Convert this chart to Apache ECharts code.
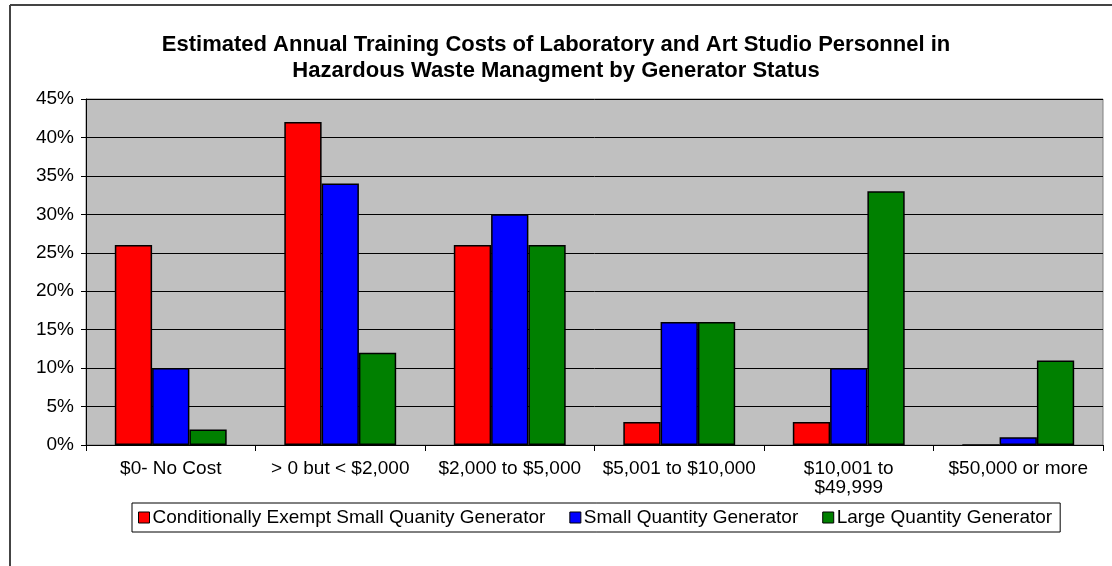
<!DOCTYPE html>
<html>
<head>
<meta charset="utf-8">
<title>Training Costs</title>
<script src="https://cdn.jsdelivr.net/npm/echarts@6/dist/echarts.min.js"></script>
<style>
  html, body { margin: 0; padding: 0; background: #fff; }
  #chart { width: 1112px; height: 566px; }
</style>
</head>
<body>
<div id="chart"></div>
<script>
// categories (cost ranges)
var categories = ['$0- No Cost', '> 0 but < $2,000', '$2,000 to $5,000', '$5,001 to $10,000', '$10,001 to\n$49,999', '$50,000 or more'];
// series names
var seriesNames = ['Conditionally Exempt Small Quanity Generator', 'Small Quantity Generator', 'Large Quantity Generator'];
// percentages
var cesqg = [26, 42, 26, 3, 3, 0];
var sqg = [10, 34, 30, 16, 10, 1];
var lqg = [2, 12, 26, 16, 33, 11];
var colors = ['#FF0000', '#0000FF', '#008000'];

var myChart = echarts.init(document.getElementById('chart'));

function barSeries(name, data, color) {
    return {
        name: name,
        type: 'bar',
        data: data,
        barGap: '0%',
        barCategoryGap: '34%',
        itemStyle: { color: color, borderColor: '#000', borderWidth: 1.5 }
    };
}

var option = {
    backgroundColor: '#fff',
    animation: false,
    textStyle: { fontFamily: 'Liberation Sans, Arial, sans-serif' },
    title: {
        text: 'Estimated Annual Training Costs of Laboratory and Art Studio Personnel in\nHazardous Waste Managment by Generator Status',
        left: 'center',
        top: 27,
        textStyle: { fontSize: 22, fontWeight: 'bold', color: '#000', lineHeight: 26 }
    },
    legend: {
        bottom: 34,
        left: 132,
        data: seriesNames,
        icon: 'rect',
        itemWidth: 11,
        itemHeight: 11,
        itemGap: 24,
        padding: [5, 8, 5, 6],
        borderColor: '#000',
        borderWidth: 1,
        textStyle: { fontSize: 19, color: '#000', padding: [0, 0, 0, -2] },
        itemStyle: { borderColor: '#000', borderWidth: 1 }
    },
    grid: {
        left: 86,
        right: 9,
        top: 99,
        bottom: 121,
        show: true,
        backgroundColor: '#C0C0C0',
        borderColor: '#808080',
        borderWidth: 1
    },
    xAxis: {
        type: 'category',
        data: categories,
        axisLine: { lineStyle: { color: '#000', width: 1 } },
        axisTick: { show: true, length: 6, lineStyle: { color: '#000' } },
        axisLabel: { fontSize: 19, color: '#000', margin: 14, interval: 0, lineHeight: 19 }
    },
    yAxis: {
        type: 'value',
        min: 0,
        max: 45,
        interval: 5,
        axisLine: { show: true, lineStyle: { color: '#000', width: 1 } },
        axisTick: { show: true, length: 5, lineStyle: { color: '#000' } },
        axisLabel: { fontSize: 19, color: '#000', formatter: '{value}%', margin: 12 },
        splitLine: { lineStyle: { color: '#000', width: 1 } }
    },
    series: [
        barSeries(seriesNames[0], cesqg, colors[0]),
        barSeries(seriesNames[1], sqg, colors[1]),
        barSeries(seriesNames[2], lqg, colors[2])
    ],
    graphic: [
        { type: 'line', shape: { x1: 10, y1: 5, x2: 1112, y2: 5 }, style: { stroke: '#444', lineWidth: 2 } },
        { type: 'line', shape: { x1: 10, y1: 5, x2: 10, y2: 566 }, style: { stroke: '#444', lineWidth: 2 } }
    ]
};

myChart.setOption(option);
window.addEventListener('resize', function () {
    myChart.resize();
});
</script>
</body>
</html>
